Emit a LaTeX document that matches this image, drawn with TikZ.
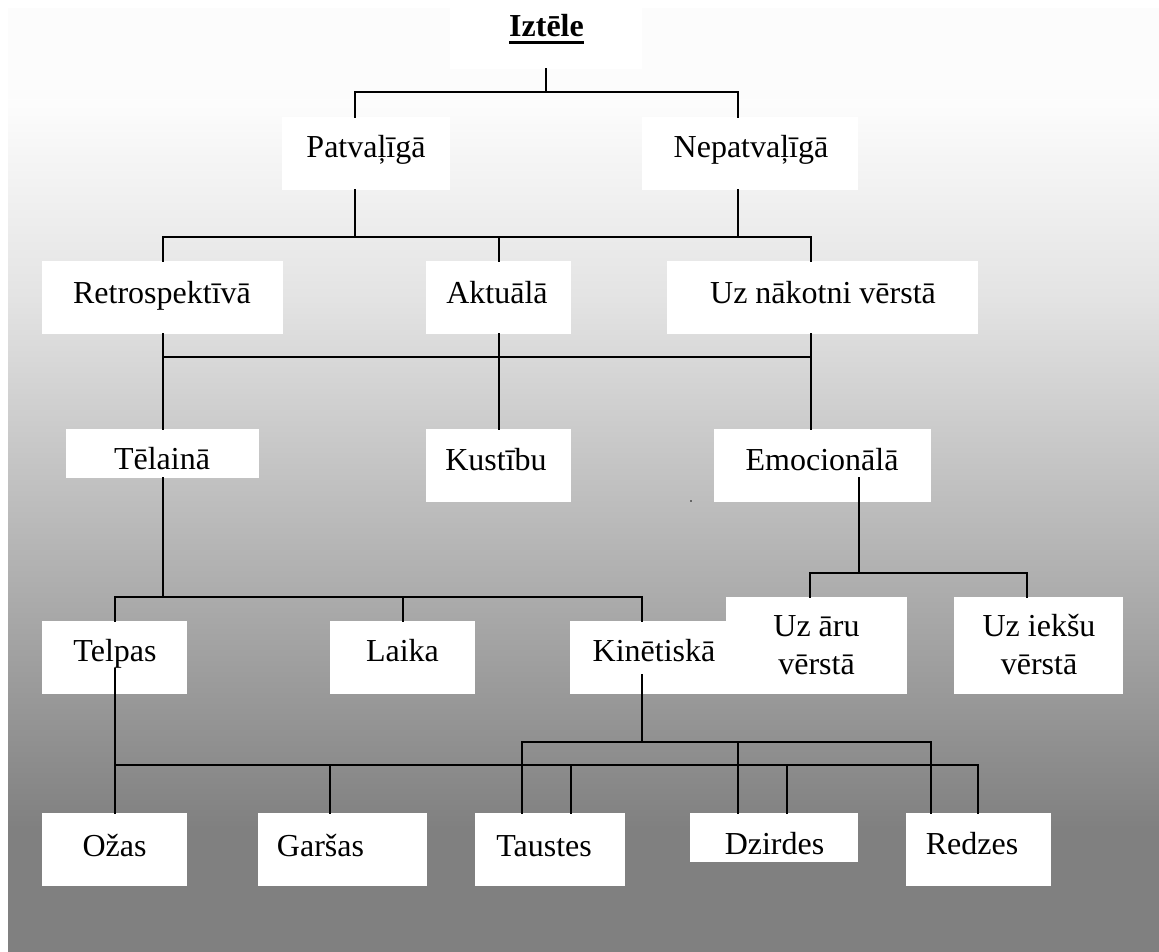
\documentclass[tikz,border=0pt]{standalone}
\usepackage{fontspec}
\setmainfont{Liberation Serif}
% white box given by its corners (x1,y1,x2,y2), in pixel units
\newcommand\pxbox[5]{%
  \node[box, minimum width={(#4-#2)*0.75pt}, minimum height={(#5-#3)*0.75pt}]
    (#1) at ({(#2+#4)/2},{(#3+#5)/2}) {};}
\begin{document}
\begin{tikzpicture}[x=0.75pt,y=-0.75pt,
  box/.style={fill=white, draw=none, inner sep=0pt, outer sep=0pt, rectangle},
  lbl/.style={anchor=base, inner sep=0pt, outer sep=0pt, font=\fontsize{24}{28.8}\selectfont},
  link/.style={draw=black, line width=1.5pt, line cap=rect},
]
\useasboundingbox (0,0) rectangle (1159,952);

% shaded backdrop panel: near white on top, fading to mid grey at the bottom
\fill[black!1] (8,8) rectangle (1159,101);
\shade[top color=black!1, bottom color=black!11] (8,100) rectangle (1159,301);
\shade[top color=black!11, bottom color=black!33] (8,300) rectangle (1159,601);
\shade[top color=black!33, bottom color=black!50] (8,600) rectangle (1159,831);
\fill[black!50] (8,830) rectangle (1159,952);

% boxes
\pxbox{izt}{450}{8}{642}{69}
\pxbox{pat}{282}{117}{450}{190}
\pxbox{nep}{642}{117}{858}{190}
\pxbox{ret}{42}{261}{283}{334}
\pxbox{akt}{426}{261}{571}{334}
\pxbox{uzn}{667}{261}{978}{334}
\pxbox{tel}{66}{429}{259}{478}
\pxbox{kus}{426}{429}{571}{502}
\pxbox{emo}{714}{429}{931}{502}
\pxbox{tlp}{42}{621}{187}{694}
\pxbox{lai}{330}{621}{475}{694}
\pxbox{kin}{570}{621}{738}{694}
\pxbox{uza}{726}{597}{907}{694}
\pxbox{uzi}{954}{597}{1123}{694}
\pxbox{oza}{42}{813}{187}{886}
\pxbox{gar}{258}{813}{427}{886}
\pxbox{tau}{475}{813}{625}{886}
\pxbox{dzi}{690}{813}{858}{862}
\pxbox{red}{906}{813}{1051}{886}

% bus junctions
\coordinate (b1)  at (546,92);
\coordinate (b1l) at (355,92);
\coordinate (b1r) at (738,92);
\coordinate (b2l) at (163,237);
\coordinate (b2r) at (811,237);
\coordinate (b3l) at (162.5,357);
\coordinate (b3r) at (811,357);
\coordinate (b4l) at (115,597);
\coordinate (b4r) at (642,597);
\coordinate (b5)  at (859,573);
\coordinate (b5l) at (810,573);
\coordinate (b5r) at (1027,573);
\coordinate (b6l) at (115,765);
\coordinate (d6a) at (330,765);
\coordinate (d6b) at (571,765);
\coordinate (d6c) at (787,765);
\coordinate (b6r) at (978,765);
\coordinate (b7l) at (522,742);
\coordinate (b7m) at (738,742);
\coordinate (b7r) at (931,742);

% connectors
\draw[link] (izt.south) -- (b1);
\draw[link] (pat.north -| b1l) |- (b1r) -- (nep.north -| b1r);

\draw[link] (pat.south -| b1l) -- (b1l |- b2l);
\draw[link] (nep.south -| b1r) -- (b1r |- b2r);
\draw[link] (ret.north -| b2l) |- (b2r) -- (uzn.north -| b2r);
\draw[link] (akt.north) -- (akt.north |- b2l);

\draw[link] (ret.south -| b3l) -- (tel.north -| b3l);
\draw[link] (b3l) -- (b3r);
\draw[link] (uzn.south -| b3r) -- (emo.north -| b3r);
\draw[link] (akt.south) -- (kus.north);

\draw[link] (tel.south -| b3l) -- (b3l |- b4l);
\draw[link] (tlp.north -| b4l) |- (b4r) -- (kin.north -| b4r);
\draw[link] (lai.north) -- (lai.north |- b4l);

\draw[link] ([yshift=18pt]emo.south -| b5) -- (b5);
\draw[link] (uza.north -| b5l) |- (b5r) -- (uzi.north -| b5r);

\draw[link] ([yshift=18.75pt]tlp.south -| b6l) -- (oza.north -| b6l);
\draw[link] (b6l) -- (b6r) -- (red.north -| b6r);
\draw[link] (d6a) -- (gar.north -| d6a);
\draw[link] (d6b) -- (tau.north -| d6b);
\draw[link] (d6c) -- (dzi.north -| d6c);

\draw[link] ([yshift=14.25pt]kin.south -| b4r) -- (b4r |- b7l);
\draw[link] (tau.north -| b7l) |- (b7r) -- (red.north -| b7r);
\draw[link] (b7m) -- (dzi.north -| b7m);

% stray dot
\fill[black!60] (690,500) rectangle (692,502);

% labels
\node[lbl, font=\fontsize{24}{28.8}\selectfont\bfseries] (izt-t) at (546.5,37) {Iztēle};
\draw[line width=2pt] ([yshift=-4.2pt]izt-t.base west) -- ([yshift=-4.2pt]izt-t.base east);
\node[lbl] (pat-t) at (366,158) {Patvaļīgā};
\node[lbl] (nep-t) at (751,158) {Nepatvaļīgā};
\node[lbl] (ret-t) at (162,303) {Retrospektīvā};
\node[lbl] (akt-t) at (497,303) {Aktuālā};
\node[lbl] (uzn-t) at (823,303) {Uz nākotni vērstā};
\node[lbl] (tel-t) at (162,469) {Tēlainā};
\node[lbl] (kus-t) at (496,470) {Kustību};
\node[lbl] (emo-t) at (822,470) {Emocionālā};
\node[lbl] (tlp-t) at (115,661) {Telpas};
\node[lbl] (lai-t) at (402.5,661) {Laika};
\node[lbl] (kin-t) at (654,661) {Kinētiskā};
\node[lbl] (uza-t1) at (816.5,636) {Uz āru};
\node[lbl] (uza-t2) at (816.5,674) {vērstā};
\node[lbl] (uzi-t1) at (1039,636) {Uz iekšu};
\node[lbl] (uzi-t2) at (1039,674) {vērstā};
\node[lbl] (oza-t) at (114.5,856) {Ožas};
\node[lbl] (gar-t) at (320.5,856) {Garšas};
\node[lbl] (tau-t) at (544,856) {Taustes};
\node[lbl] (dzi-t) at (774.5,854) {Dzirdes};
\node[lbl] (red-t) at (972,854) {Redzes};
\end{tikzpicture}
\end{document}
